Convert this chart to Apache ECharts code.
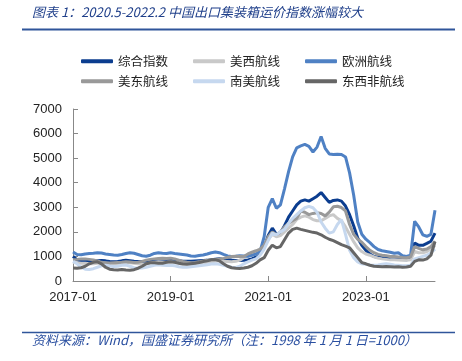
<!DOCTYPE html>
<html>
<head>
<meta charset="utf-8">
<script src="https://cdn.jsdelivr.net/npm/echarts@6/dist/echarts.min.js"></script>
<style>
html,body{margin:0;padding:0;background:#fff;}
#c{width:462px;height:361px;}
</style>
</head>
<body>
<div id="c"></div>
<script>
// Categories: monthly, 2017-01 .. 2024-06
var startYear = 2017, monthCount = 90;
var months = [];
for (var i = 0; i < monthCount; i++) {
  var y = startYear + Math.floor(i / 12), m = (i % 12) + 1;
  months.push(y + '-' + (m < 10 ? '0' + m : m));
}
var xTickLabels = ['2017-01', '2019-01', '2021-01', '2023-01'];
var yTicks = [0, 1000, 2000, 3000, 4000, 5000, 6000, 7000];

var seriesNames = ['综合指数', '美西航线', '欧洲航线', '美东航线', '南美航线', '东西非航线'];

var composite = [1000,860,800,800,790,800,820,830,820,790,780,790,
  820,840,820,800,790,780,790,820,840,850,830,830,
  860,840,820,800,800,800,810,820,830,840,870,890,
  910,880,860,850,830,830,840,860,900,980,1150,1350,
  1850,2150,1900,1950,2250,2600,2850,3100,3250,3300,3250,3350,
  3450,3600,3400,3200,3280,3300,3250,3050,2700,2250,1750,1450,
  1250,1100,1000,970,950,930,900,900,900,870,860,900,
  1550,1450,1450,1530,1620,1950];

var usWest = [760,740,720,720,700,700,720,740,730,710,700,710,
  730,750,740,720,700,690,700,730,760,780,770,760,
  780,760,740,720,710,710,720,730,740,760,780,800,
  820,800,790,780,800,850,950,1000,1050,1100,1200,1400,
  1700,1900,1800,1850,2000,2150,2300,2500,2600,2650,2600,2500,
  2450,2450,2550,2650,2700,2550,2450,2200,1900,1600,1350,1200,
  1100,1050,980,930,900,880,860,860,850,840,840,860,
  1200,1150,1150,1200,1300,1450];

var europe = [1180,1080,1070,1100,1120,1130,1150,1140,1100,1080,1060,1050,
  1080,1120,1150,1130,1080,1030,1010,1050,1120,1150,1130,1120,
  1150,1120,1100,1080,1060,1020,1010,1040,1060,1100,1150,1180,
  1150,1080,1020,1000,1010,1030,1020,1010,1050,1100,1200,1800,
  3000,3350,2960,3100,3750,4450,5050,5420,5500,5560,5480,5250,
  5450,5880,5400,5170,5150,5160,5150,5050,4400,3500,2400,1900,
  1700,1560,1400,1280,1230,1200,1170,1130,1150,1030,1000,1050,
  2430,2200,1880,1820,1900,2880];

var usEast = [870,880,900,900,880,860,820,760,740,730,740,750,
  760,780,770,750,760,800,850,880,900,920,930,920,
  930,900,850,800,760,740,750,780,820,850,870,880,
  900,920,960,1000,1010,1000,1000,1100,1170,1230,1300,1450,
  1800,2000,1880,2000,2200,2350,2450,2550,2850,2800,2700,2750,
  2780,2750,2650,2800,3020,3040,2990,2850,2300,1900,1700,1580,
  1400,1250,1150,1080,1050,1030,1000,1000,980,960,950,980,
  1400,1330,1270,1300,1400,1620];

var southAm = [800,700,560,480,470,500,560,620,640,610,590,600,
  640,650,600,540,520,530,560,600,640,660,640,630,
  640,620,580,560,560,580,600,620,640,660,690,700,
  680,640,600,560,550,600,700,780,850,900,1050,1300,
  1650,1950,1880,2000,2100,2350,2550,2700,2850,2980,3040,2980,
  2800,2400,2150,1950,2000,2300,2500,1900,1250,950,780,700,
  680,650,640,650,680,700,680,650,640,620,620,640,
  900,950,1000,1050,1150,1300];

var africa = [530,520,540,600,700,760,780,700,560,480,460,450,
  470,450,440,460,520,600,700,740,740,720,720,760,
  780,760,720,690,680,700,720,750,790,820,860,870,
  820,700,600,540,520,510,530,560,620,720,860,950,
  1250,1460,1350,1400,1680,1950,2100,2150,2100,2060,2020,1980,
  1950,1880,1780,1700,1640,1560,1480,1420,1350,1150,950,750,
  700,640,600,590,580,590,580,570,580,560,570,600,
  800,860,850,900,1050,1600];

var seriesData = [composite, usWest, europe, usEast, southAm, africa];
var colors = ['#0b3d8f', '#c9c9c9', '#4f81c4', '#999999', '#c6d8ef', '#666666'];

var chart = echarts.init(document.getElementById('c'), null, {renderer: 'canvas'});

var legendPos = [
  {left: 81, top: 55}, {left: 193, top: 55}, {left: 305, top: 55},
  {left: 81, top: 75}, {left: 193, top: 75}, {left: 305, top: 75}
];
var legends = seriesNames.map(function (n, i) {
  return {
    data: [n], left: legendPos[i].left, top: legendPos[i].top,
    orient: 'horizontal', itemWidth: 32, itemHeight: 4, icon: 'roundRect',
    padding: 0, selectedMode: false,
    textStyle: {fontSize: 12.5, color: '#222', fontFamily: 'Noto Sans CJK SC'}
  };
});

var series = seriesNames.map(function (n, i) {
  return {
    name: n, type: 'line', data: seriesData[i], showSymbol: false, symbol: 'none',
    lineStyle: {width: 3, color: colors[i]}, itemStyle: {color: colors[i]},
    smooth: false, animation: false
  };
});

var labelFont = {fontFamily: 'Liberation Sans', fontSize: 13, color: '#222'};

chart.setOption({
  animation: false,
  backgroundColor: '#fff',
  legend: legends,
  grid: {left: 73, right: 27, top: 109, bottom: 80},
  xAxis: {
    type: 'category', data: months, boundaryGap: false,
    axisLine: {lineStyle: {color: '#888', width: 1}},
    axisTick: {inside: true, length: 5, lineStyle: {color: '#888'},
      interval: function (idx, val) { return xTickLabels.indexOf(val) >= 0; }},
    axisLabel: Object.assign({margin: 10,
      interval: function (idx, val) { return xTickLabels.indexOf(val) >= 0; }}, labelFont),
    splitLine: {show: false}
  },
  yAxis: {
    type: 'value', min: yTicks[0], max: yTicks[yTicks.length - 1], interval: 1000,
    axisLine: {show: true, lineStyle: {color: '#888', width: 1}},
    axisTick: {show: true, inside: true, length: 5, lineStyle: {color: '#888'}},
    axisLabel: Object.assign({margin: 11, formatter: function (v) { return String(v); }}, labelFont),
    splitLine: {show: false}
  },
  series: series,
  graphic: [
    {type: 'text', left: 32, top: 6, style: {text: '图表 1：2020.5-2022.2 中国出口集装箱运价指数涨幅较大',
      fontSize: 13, fontStyle: 'italic', fontFamily: 'Noto Sans CJK SC', fill: '#1f3f8a'}},
    {type: 'line', shape: {x1: 22, y1: 29.5, x2: 455, y2: 29.5}, style: {stroke: '#2f559a', lineWidth: 2}},
    {type: 'line', shape: {x1: 22, y1: 332.5, x2: 455, y2: 332.5}, style: {stroke: '#2f559a', lineWidth: 1.5}},
    {type: 'text', left: 32, top: 334, style: {text: '资料来源：Wind，国盛证券研究所（注：1998 年 1 月 1 日=1000）',
      fontSize: 13, fontStyle: 'italic', fontFamily: 'Noto Sans CJK SC', fill: '#2a4fa0'}}
  ]
});
</script>
</body>
</html>
